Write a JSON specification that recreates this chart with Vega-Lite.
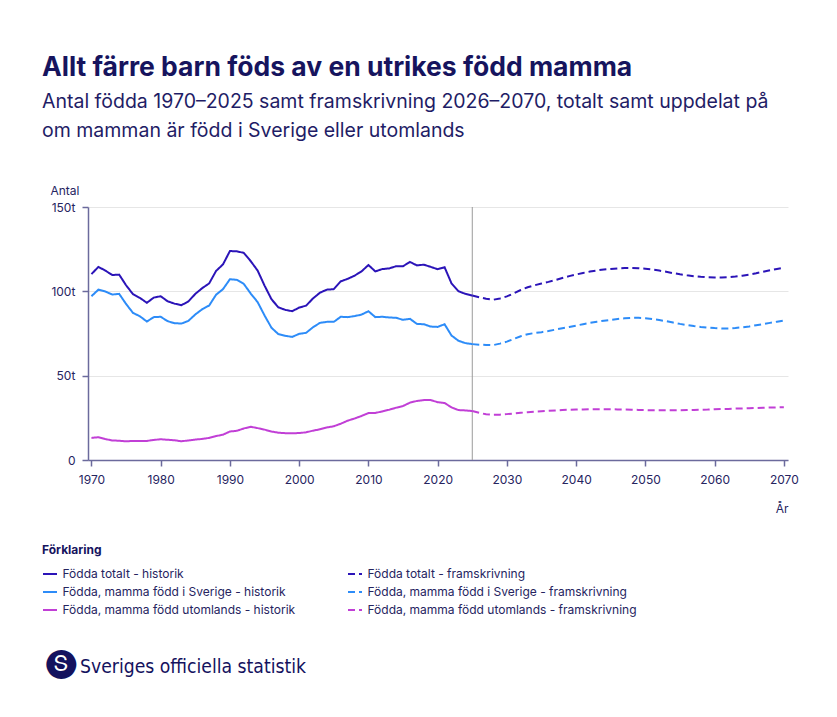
{
  "$schema": "https://vega.github.io/schema/vega-lite/v6.json",
  "background": "white",
  "padding": {"left": 42, "top": 54, "right": 10, "bottom": 10},
  "title": {
    "text": "Allt färre barn föds av en utrikes född mamma",
    "subtitle": ["Antal födda 1970–2025 samt framskrivning 2026–2070, totalt samt uppdelat på", "om mamman är född i Sverige eller utomlands"],
    "anchor": "start",
    "frame": "bounds",
    "font": "Inter",
    "fontSize": 26.5,
    "fontWeight": 700,
    "color": "#16145e",
    "subtitleFont": "Inter",
    "subtitleFontSize": 19.5,
    "subtitleColor": "#1f1d66",
    "subtitleLineHeight": 28.5,
    "subtitlePadding": 12,
    "offset": 44
  },
  "vconcat": [
    {
      "title": {
        "text": "Sveriges officiella statistik",
        "orient": "bottom",
        "anchor": "start",
        "frame": "bounds",
        "font": "DejaVu Sans Condensed",
        "fontSize": 19.2,
        "fontWeight": 400,
        "color": "#14125e",
        "dx": 34,
        "offset": -19
      },
      "vconcat": [
        {
          "title": {
            "text": "🅢",
            "orient": "bottom",
            "anchor": "start",
            "frame": "bounds",
            "font": "DejaVu Sans",
            "fontSize": 30,
            "fontWeight": 400,
            "color": "#14125e",
            "dx": -4,
            "offset": 133
          },
          "width": 700,
          "height": 253,
          "layer": [
            {
              "data": {"values": [{"ar": 2025}]},
              "mark": {"type": "rule", "color": "#9a9a9a", "strokeWidth": 1},
              "encoding": {
                "x": {"field": "ar", "type": "quantitative", "scale": {"domain": [1969.5, 2070.6], "nice": false, "zero": false}}
              }
            },
            {
              "data": {
                "values": [
                  {"ar": 1970, "th": 110200, "sh": 97100, "uh": 13100},
                  {"ar": 1971, "th": 114500, "sh": 101000, "uh": 13500},
                  {"ar": 1972, "th": 112300, "sh": 99900, "uh": 12400},
                  {"ar": 1973, "th": 109700, "sh": 98100, "uh": 11600},
                  {"ar": 1974, "th": 109900, "sh": 98500, "uh": 11400},
                  {"ar": 1975, "th": 103600, "sh": 92500, "uh": 11100},
                  {"ar": 1976, "th": 98300, "sh": 87200, "uh": 11300},
                  {"ar": 1977, "th": 96100, "sh": 85200, "uh": 11200},
                  {"ar": 1978, "th": 93200, "sh": 82100, "uh": 11300},
                  {"ar": 1979, "th": 96300, "sh": 84700, "uh": 11900},
                  {"ar": 1980, "th": 97100, "sh": 84900, "uh": 12300},
                  {"ar": 1981, "th": 94100, "sh": 82300, "uh": 12000},
                  {"ar": 1982, "th": 92700, "sh": 81100, "uh": 11700},
                  {"ar": 1983, "th": 91800, "sh": 80900, "uh": 11100},
                  {"ar": 1984, "th": 94000, "sh": 82500, "uh": 11600},
                  {"ar": 1985, "th": 98500, "sh": 86300, "uh": 12100},
                  {"ar": 1986, "th": 101900, "sh": 89400, "uh": 12500},
                  {"ar": 1987, "th": 104700, "sh": 91600, "uh": 13100},
                  {"ar": 1988, "th": 112100, "sh": 98000, "uh": 14200},
                  {"ar": 1989, "th": 116000, "sh": 101300, "uh": 15000},
                  {"ar": 1990, "th": 123900, "sh": 107200, "uh": 16900},
                  {"ar": 1991, "th": 123700, "sh": 106800, "uh": 17300},
                  {"ar": 1992, "th": 122800, "sh": 104400, "uh": 18700},
                  {"ar": 1993, "th": 117900, "sh": 98700, "uh": 19700},
                  {"ar": 1994, "th": 112300, "sh": 93600, "uh": 18900},
                  {"ar": 1995, "th": 103400, "sh": 85700, "uh": 18000},
                  {"ar": 1996, "th": 95300, "sh": 78400, "uh": 16900},
                  {"ar": 1997, "th": 90500, "sh": 74600, "uh": 16200},
                  {"ar": 1998, "th": 89000, "sh": 73600, "uh": 15900},
                  {"ar": 1999, "th": 88200, "sh": 73000, "uh": 15800},
                  {"ar": 2000, "th": 90400, "sh": 74800, "uh": 16000},
                  {"ar": 2001, "th": 91500, "sh": 75400, "uh": 16400},
                  {"ar": 2002, "th": 95800, "sh": 78700, "uh": 17400},
                  {"ar": 2003, "th": 99200, "sh": 81300, "uh": 18200},
                  {"ar": 2004, "th": 101000, "sh": 81900, "uh": 19300},
                  {"ar": 2005, "th": 101300, "sh": 81900, "uh": 20000},
                  {"ar": 2006, "th": 105900, "sh": 84900, "uh": 21500},
                  {"ar": 2007, "th": 107400, "sh": 84700, "uh": 23300},
                  {"ar": 2008, "th": 109300, "sh": 85300, "uh": 24600},
                  {"ar": 2009, "th": 111800, "sh": 86200, "uh": 26100},
                  {"ar": 2010, "th": 115600, "sh": 88200, "uh": 27800},
                  {"ar": 2011, "th": 111800, "sh": 84700, "uh": 27900},
                  {"ar": 2012, "th": 113200, "sh": 84900, "uh": 28800},
                  {"ar": 2013, "th": 113600, "sh": 84500, "uh": 29800},
                  {"ar": 2014, "th": 114900, "sh": 84300, "uh": 31000},
                  {"ar": 2015, "th": 114900, "sh": 83100, "uh": 32000},
                  {"ar": 2016, "th": 117400, "sh": 83700, "uh": 34000},
                  {"ar": 2017, "th": 115400, "sh": 80700, "uh": 35000},
                  {"ar": 2018, "th": 115800, "sh": 80500, "uh": 35500},
                  {"ar": 2019, "th": 114500, "sh": 79100, "uh": 35500},
                  {"ar": 2020, "th": 113100, "sh": 78900, "uh": 34300},
                  {"ar": 2021, "th": 114300, "sh": 80500, "uh": 33800},
                  {"ar": 2022, "th": 104700, "sh": 73800, "uh": 31200},
                  {"ar": 2023, "th": 100100, "sh": 70700, "uh": 29600},
                  {"ar": 2024, "th": 98500, "sh": 69300, "uh": 29400},
                  {"ar": 2025, "th": 97500, "sh": 68700, "uh": 29000, "tf": 97500, "sf": 68700, "uf": 29000},
                  {"ar": 2026, "tf": 96500, "sf": 68400, "uf": 28000},
                  {"ar": 2027, "tf": 95600, "sf": 68200, "uf": 27100},
                  {"ar": 2028, "tf": 95000, "sf": 68100, "uf": 26800},
                  {"ar": 2029, "tf": 95800, "sf": 69000, "uf": 26900},
                  {"ar": 2030, "tf": 97000, "sf": 70200, "uf": 27200},
                  {"ar": 2031, "tf": 98800, "sf": 71800, "uf": 27600},
                  {"ar": 2032, "tf": 100800, "sf": 73400, "uf": 28000},
                  {"ar": 2033, "tf": 102400, "sf": 74600, "uf": 28300},
                  {"ar": 2034, "tf": 103600, "sf": 75300, "uf": 28600},
                  {"ar": 2035, "tf": 104600, "sf": 75800, "uf": 28900},
                  {"ar": 2036, "tf": 105600, "sf": 76500, "uf": 29200},
                  {"ar": 2037, "tf": 106700, "sf": 77300, "uf": 29400},
                  {"ar": 2038, "tf": 107900, "sf": 78100, "uf": 29600},
                  {"ar": 2039, "tf": 109000, "sf": 78900, "uf": 29800},
                  {"ar": 2040, "tf": 110000, "sf": 79700, "uf": 29900},
                  {"ar": 2041, "tf": 110900, "sf": 80500, "uf": 30000},
                  {"ar": 2042, "tf": 111700, "sf": 81300, "uf": 30100},
                  {"ar": 2043, "tf": 112400, "sf": 82000, "uf": 30100},
                  {"ar": 2044, "tf": 112900, "sf": 82600, "uf": 30100},
                  {"ar": 2045, "tf": 113300, "sf": 83100, "uf": 30100},
                  {"ar": 2046, "tf": 113600, "sf": 83600, "uf": 30000},
                  {"ar": 2047, "tf": 113800, "sf": 84000, "uf": 29900},
                  {"ar": 2048, "tf": 113800, "sf": 84300, "uf": 29800},
                  {"ar": 2049, "tf": 113700, "sf": 84300, "uf": 29700},
                  {"ar": 2050, "tf": 113400, "sf": 84100, "uf": 29600},
                  {"ar": 2051, "tf": 112900, "sf": 83600, "uf": 29500},
                  {"ar": 2052, "tf": 112300, "sf": 83000, "uf": 29500},
                  {"ar": 2053, "tf": 111600, "sf": 82300, "uf": 29500},
                  {"ar": 2054, "tf": 110800, "sf": 81500, "uf": 29500},
                  {"ar": 2055, "tf": 110100, "sf": 80700, "uf": 29500},
                  {"ar": 2056, "tf": 109500, "sf": 80000, "uf": 29600},
                  {"ar": 2057, "tf": 109000, "sf": 79400, "uf": 29700},
                  {"ar": 2058, "tf": 108600, "sf": 78900, "uf": 29800},
                  {"ar": 2059, "tf": 108300, "sf": 78500, "uf": 29900},
                  {"ar": 2060, "tf": 108200, "sf": 78200, "uf": 30100},
                  {"ar": 2061, "tf": 108200, "sf": 78000, "uf": 30200},
                  {"ar": 2062, "tf": 108400, "sf": 78000, "uf": 30300},
                  {"ar": 2063, "tf": 108800, "sf": 78300, "uf": 30500},
                  {"ar": 2064, "tf": 109300, "sf": 78700, "uf": 30600},
                  {"ar": 2065, "tf": 109900, "sf": 79200, "uf": 30700},
                  {"ar": 2066, "tf": 110700, "sf": 79900, "uf": 30800},
                  {"ar": 2067, "tf": 111600, "sf": 80600, "uf": 31000},
                  {"ar": 2068, "tf": 112500, "sf": 81300, "uf": 31100},
                  {"ar": 2069, "tf": 113300, "sf": 82000, "uf": 31200},
                  {"ar": 2070, "tf": 114000, "sf": 82700, "uf": 31300}
                ]
              },
              "transform": [
                {"fold": ["th", "sh", "uh", "tf", "sf", "uf"], "as": ["serie", "antal"]},
                {"filter": "isValid(datum.antal)"}
              ],
              "mark": {"type": "line", "strokeWidth": 2},
              "encoding": {
                "x": {
                  "field": "ar",
                  "type": "quantitative",
                  "scale": {"domain": [1969.5, 2070.6], "nice": false, "zero": false},
                  "axis": {
                    "title": "År",
                    "values": [1970, 1980, 1990, 2000, 2010, 2020, 2030, 2040, 2050, 2060, 2070],
                    "format": "d",
                    "grid": false,
                    "tickSize": 6,
                    "labelPadding": 8,
                    "labelFlush": false,
                    "domainWidth": 1.5,
                    "tickWidth": 1.5,
                    "titleAnchor": "end",
                    "titleAlign": "right",
                    "titleX": 700,
                    "titleY": 52,
                    "titleBaseline": "alphabetic"
                  }
                },
                "y": {
                  "field": "antal",
                  "type": "quantitative",
                  "scale": {"domain": [0, 150000], "nice": false},
                  "axis": {
                    "title": "Antal",
                    "values": [0, 50000, 100000, 150000],
                    "labelExpr": "datum.value == 0 ? '0' : (datum.value / 1000) + 't'",
                    "grid": true,
                    "tickSize": 6,
                    "labelPadding": 7,
                    "domainWidth": 1.5,
                    "tickWidth": 1.5,
                    "titleAngle": 0,
                    "titleAlign": "left",
                    "titleX": -38,
                    "titleY": -13,
                    "titleBaseline": "alphabetic"
                  }
                },
                "color": {
                  "field": "serie",
                  "type": "nominal",
                  "scale": {
                    "domain": ["th", "sh", "uh", "tf", "sf", "uf"],
                    "range": ["#2b14b8", "#2d8cf8", "#c13fd6", "#2b14b8", "#2d8cf8", "#c13fd6"]
                  },
                  "legend": {
                    "title": "Förklaring",
                    "orient": "none",
                    "legendX": -46,
                    "legendY": 338,
                    "columns": 2,
                    "columnPadding": 48,
                    "rowPadding": 4,
                    "padding": 0,
                    "symbolType": "stroke",
                    "symbolSize": 196,
                    "symbolStrokeWidth": 2,
                    "labelOffset": 4.5,
                    "labelFont": "Inter",
                    "labelFontSize": 12,
                    "labelColor": "#26245f",
                    "labelLimit": 400,
                    "titleFont": "Inter",
                    "titleFontSize": 12,
                    "titleFontWeight": 700,
                    "titleColor": "#16145e",
                    "titlePadding": 9,
                    "labelExpr": "datum.value == 'th' ? 'Födda totalt - historik' : datum.value == 'tf' ? 'Födda totalt - framskrivning' : datum.value == 'sh' ? 'Födda, mamma född i Sverige - historik' : datum.value == 'sf' ? 'Födda, mamma född i Sverige - framskrivning' : datum.value == 'uh' ? 'Födda, mamma född utomlands - historik' : 'Födda, mamma född utomlands - framskrivning'"
                  }
                },
                "strokeDash": {
                  "field": "serie",
                  "type": "nominal",
                  "scale": {
                    "domain": ["th", "sh", "uh", "tf", "sf", "uf"],
                    "range": [[1, 0], [1, 0], [1, 0], [7, 4], [7, 4], [7, 4]]
                  },
                  "legend": {
                    "title": "Förklaring",
                    "orient": "none",
                    "legendX": -46,
                    "legendY": 338,
                    "columns": 2,
                    "columnPadding": 48,
                    "rowPadding": 4,
                    "padding": 0,
                    "symbolType": "stroke",
                    "symbolSize": 196,
                    "symbolStrokeWidth": 2,
                    "labelOffset": 4.5,
                    "labelFont": "Inter",
                    "labelFontSize": 12,
                    "labelColor": "#26245f",
                    "labelLimit": 400,
                    "titleFont": "Inter",
                    "titleFontSize": 12,
                    "titleFontWeight": 700,
                    "titleColor": "#16145e",
                    "titlePadding": 9,
                    "labelExpr": "datum.value == 'th' ? 'Födda totalt - historik' : datum.value == 'tf' ? 'Födda totalt - framskrivning' : datum.value == 'sh' ? 'Födda, mamma född i Sverige - historik' : datum.value == 'sf' ? 'Födda, mamma född i Sverige - framskrivning' : datum.value == 'uh' ? 'Födda, mamma född utomlands - historik' : 'Födda, mamma född utomlands - framskrivning'"
                  }
                }
              }
            }
          ]
        }
      ]
    }
  ],
  "config": {
    "font": "Inter",
    "view": {"stroke": null},
    "concat": {"spacing": 0},
    "axis": {
      "labelFont": "Inter",
      "labelFontSize": 12,
      "labelColor": "#26245f",
      "titleFont": "Inter",
      "titleFontSize": 12,
      "titleFontWeight": "normal",
      "titleColor": "#26245f",
      "domainColor": "#6b6a9c",
      "tickColor": "#6b6a9c",
      "gridColor": "#e6e6e6"
    }
  }
}
